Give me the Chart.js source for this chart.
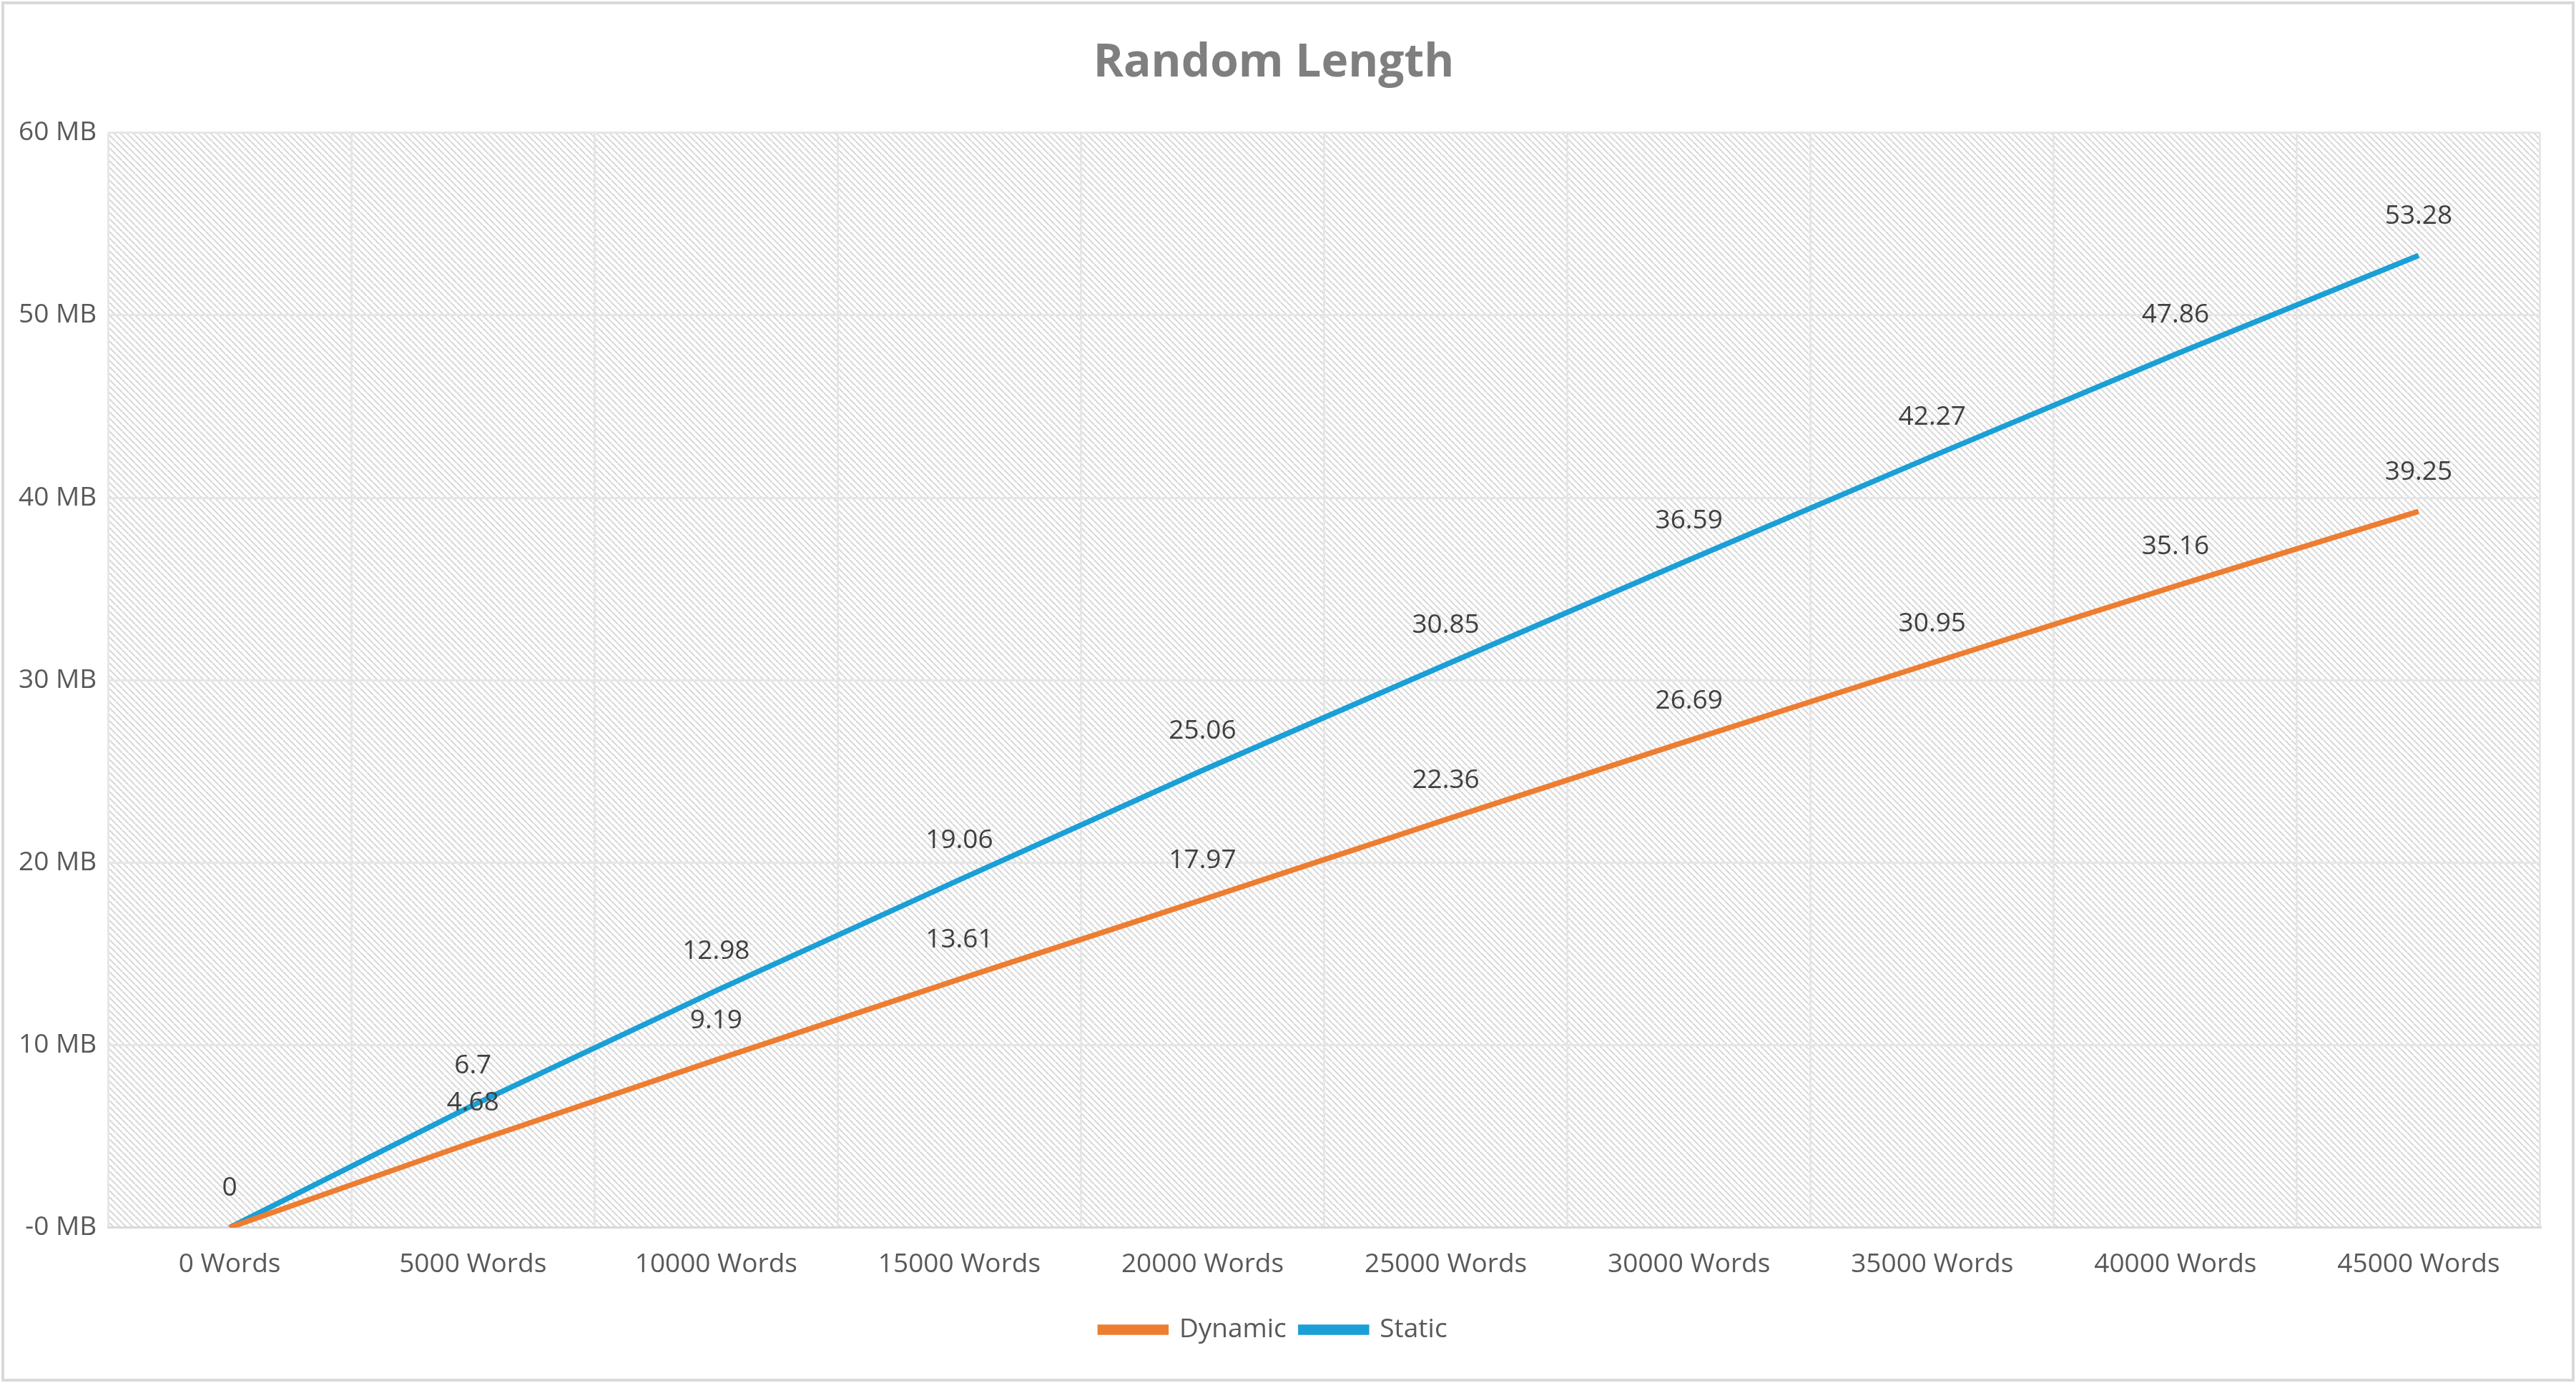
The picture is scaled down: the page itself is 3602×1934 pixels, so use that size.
<!DOCTYPE html>
<html><head><meta charset="utf-8">
<script src="https://cdn.jsdelivr.net/npm/chart.js@4/dist/chart.umd.min.js"></script>
<style>html,body{margin:0;padding:0;background:#fff;}canvas{display:block;}</style>
</head><body>
<canvas id="c" width="3602" height="1934" style="width:3602px;height:1934px"></canvas>
<script>
const categories = ['0 Words','5000 Words','10000 Words','15000 Words','20000 Words','25000 Words','30000 Words','35000 Words','40000 Words','45000 Words'];
const dynamicValues = [0,4.68,9.19,13.61,17.97,22.36,26.69,30.95,35.16,39.25];
const staticValues = [0,6.7,12.98,19.06,25.06,30.85,36.59,42.27,47.86,53.28];
const yTicks = [0,10,20,30,40,50,60];
const FONT = "'Open Sans', 'Liberation Sans', sans-serif";

function hatch(ctx){
  const n = 9;
  const p = document.createElement('canvas'); p.width = n; p.height = n;
  const g = p.getContext('2d');
  g.fillStyle = '#fff'; g.fillRect(0,0,n,n);
  g.strokeStyle = '#d9d9d9'; g.lineWidth = 2.2;
  for (let k=-n;k<=n;k+=n){ g.beginPath(); g.moveTo(k,0); g.lineTo(k+n,n); g.stroke(); }
  return ctx.createPattern(p,'repeat');
}
const bgPlugin = {
  id:'bg',
  beforeDraw(chart){
    const {ctx, chartArea:a} = chart;
    ctx.save();
    ctx.fillStyle='#fff'; ctx.fillRect(0,0,chart.width,chart.height);
    ctx.strokeStyle='#d9d9d9'; ctx.lineWidth=4; ctx.strokeRect(4,4,chart.width-8,chart.height-8);
    ctx.fillStyle=hatch(ctx); ctx.fillRect(a.left,a.top,a.right-a.left,a.bottom-a.top);
    ctx.restore();
  }
};
const labelPlugin = {
  id:'lbl',
  afterDatasetsDraw(chart){
    const ctx = chart.ctx;
    ctx.save();
    ctx.font = "37px "+FONT; ctx.fillStyle='#404040'; ctx.textAlign='center'; ctx.textBaseline='middle';
    chart.data.datasets.forEach((ds,i)=>{
      const meta = chart.getDatasetMeta(i);
      meta.data.forEach((pt,j)=>{
        if (i===0 && j===0) return;
        ctx.fillText(String(ds.data[j]), pt.x, pt.y-55);
      });
    });
    ctx.restore();
  }
};
new Chart(document.getElementById('c'), {
  type:'line',
  data:{labels:categories, datasets:[
    {label:'Dynamic', data:dynamicValues, borderColor:'#ED7D31', backgroundColor:'#ED7D31', borderWidth:7.5, pointRadius:0, tension:0},
    {label:'Static', data:staticValues, borderColor:'#1A9FD6', backgroundColor:'#1A9FD6', borderWidth:7.5, pointRadius:0, tension:0}
  ]},
  options:{
    responsive:false, animation:false, devicePixelRatio:1,
    layout:{padding:{left:10,right:50,top:20,bottom:46}},
    plugins:{
      title:{display:true, text:'Random Length', color:'#7f7f7f', font:{family:FONT, size:64, weight:'bold'}, padding:{top:30,bottom:59}},
      legend:{position:'bottom', labels:{color:'#595959', font:{family:FONT,size:37}, boxWidth:92, boxHeight:7, padding:20}},
      tooltip:{enabled:false}
    },
    scales:{
      x:{offset:true, grid:{color:'#e6e6e6', lineWidth:3, offset:true, drawTicks:false}, border:{color:'#d9d9d9', width:3},
         ticks:{color:'#595959', font:{family:FONT,size:37}, padding:30, maxRotation:0, autoSkip:false}},
      y:{min:0, max:60, grid:{color:'#e6e6e6', lineWidth:3, drawTicks:false}, border:{display:false},
         afterBuildTicks(s){ s.ticks = yTicks.map(v=>({value:v})); },
         ticks:{color:'#595959', font:{family:FONT,size:37}, padding:16, callback:v=> (v===0?'-0':v)+' MB'}}
    }
  },
  plugins:[bgPlugin,labelPlugin]
});
</script>
</body></html>
